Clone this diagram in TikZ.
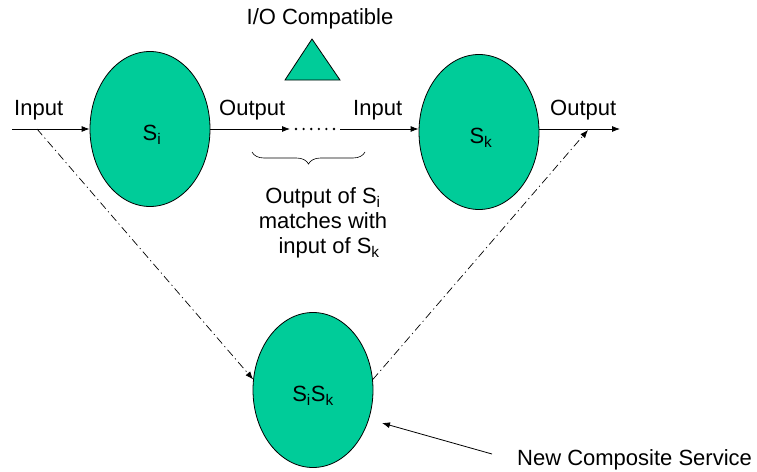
\documentclass[tikz,border=0pt]{standalone}
\usepackage{fontspec}
\setmainfont{Liberation Sans}
\usetikzlibrary{arrows.meta,decorations.pathreplacing,shapes.geometric}
\definecolor{svcgreen}{RGB}{0,204,153}
\begin{document}
\begin{tikzpicture}[x=1pt,y=-1pt,
  service/.style={ellipse,draw=black,line width=0.8pt,fill=svcgreen,minimum width=120pt,minimum height=155pt,inner sep=0pt},
  lbl/.style={font=\fontsize{22}{25}\selectfont,inner sep=0pt},
  flow/.style={line width=0.8pt,-{Latex[length=8pt,width=6pt]}},
  compose/.style={line width=0.7pt,dash pattern=on 8pt off 3.5pt on 1.2pt off 3.5pt,-{Latex[length=8pt,width=6pt]}}]
\useasboundingbox (0,0) rectangle (757,471);

% services
\node[service] (si) at (150,129) {};
\node[lbl] (tsi) at (152,135) {S\textsubscript{i}};
\node[service] (sk) at (479,132) {};
\node[lbl] (tsk) at (481,138) {S\textsubscript{k}};
\node[service] (sisk) at (313,390) {};
\node[lbl] (tsisk) at (313,396) {S\textsubscript{i}S\textsubscript{k}};

% input/output flows
\coordinate (in0) at (12,129);
\coordinate (outi) at (290,129);
\coordinate (dots0) at (296,129);
\coordinate (dots1) at (334,129);
\coordinate (ink) at (340,129);
\coordinate (outk) at (620,129);
\draw[flow] (in0) -- (si.west |- in0);
\draw[flow] (si.east |- outi) -- (outi);
\draw[line width=2.6pt,line cap=round,dash pattern=on 0pt off 7.6pt] (dots0) -- (dots1);
\draw[flow] (ink) -- (sk.west |- ink);
\draw[flow] (sk.east |- outk) -- (outk);

\node[lbl,anchor=west] (linput) at (14,110) {Input};
\node[lbl,anchor=west] (loutput) at (219,110) {Output};
\node[lbl,anchor=west] (linput2) at (353,110) {Input};
\node[lbl,anchor=west] (loutput2) at (550,110) {Output};

% compatibility mark
\node[lbl] (io) at (320,19) {I/O Compatible};
\draw[line width=0.8pt,fill=svcgreen,line join=miter] (312,39) -- (340,80) -- (285,80) -- cycle;

% matching brace and note
\coordinate (br0) at (252,152);
\coordinate (br1) at (365,152);
\draw[line width=0.6pt,decorate,decoration={brace,mirror,amplitude=12pt}] (br0) -- (br1);
\node[lbl,align=center] (note) at (323,223) {Output of S\textsubscript{i}\\matches with\\\ \ input of S\textsubscript{k}};

% composition
\coordinate (tap0) at (37,129);
\coordinate (tap1) at (588,130);
\draw[compose] (tap0) -- (sisk.170);
\draw[compose] (sisk.10) -- (tap1);

\node[lbl,anchor=west] (newsvc) at (517,460) {New Composite Service};
\coordinate (newarr) at (492,454);
\draw[flow] (newarr) -- (382,423);
\end{tikzpicture}
\end{document}
